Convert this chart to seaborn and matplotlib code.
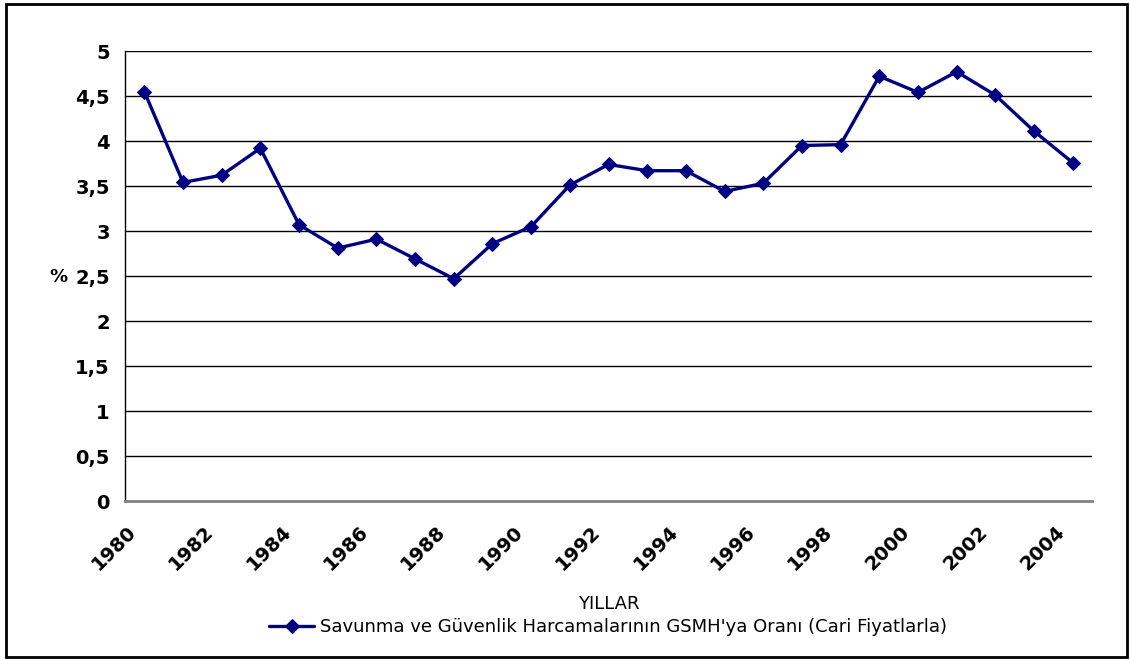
import numpy as np
import pandas as pd
import matplotlib
matplotlib.use("Agg")
import matplotlib.pyplot as plt
import matplotlib.transforms as mtrans
import seaborn as sns
from matplotlib.patches import Rectangle

# Data
years = list(range(1980, 2005))
ratio = [4.55, 3.54, 3.62, 3.92, 3.07, 2.81, 2.91, 2.69, 2.47, 2.86,
         3.05, 3.51, 3.74, 3.67, 3.67, 3.44, 3.53, 3.95, 3.96, 4.72,
         4.54, 4.77, 4.51, 4.11, 3.76]
series_name = "Savunma ve Güvenlik Harcamalarının GSMH'ya Oranı (Cari Fiyatlarla)"
y_ticks = [0, 0.5, 1, 1.5, 2, 2.5, 3, 3.5, 4, 4.5, 5]
y_tick_labels = ["0", "0,5", "1", "1,5", "2", "2,5", "3", "3,5", "4", "4,5", "5"]

df = pd.DataFrame({"Yil": years, "Oran": ratio})

sns.set_style("white")
plt.rcParams['font.family'] = ['DejaVu Sans']
plt.rcParams['text.color'] = 'black'
plt.rcParams['axes.labelcolor'] = 'black'
plt.rcParams['xtick.color'] = 'black'
plt.rcParams['ytick.color'] = 'black'

fig = plt.figure(figsize=(11.3, 6.6), dpi=100)
ax = fig.add_axes([0.1106, 0.2409, 0.8558, 0.6818])

sns.lineplot(data=df, x="Yil", y="Oran", ax=ax, color="#000080", linewidth=2.4,
             marker="D", markersize=7.5, markeredgecolor="#000080", label=series_name,
             legend=False)

ax.set_xlim(years[0] - 0.5, years[-1] + 0.5)
ax.set_ylim(0, 5)

# gridlines
for v in y_ticks[1:]:
    ax.axhline(v, color="black", linewidth=1, zorder=0)

ax.set_yticks(y_ticks)
ax.set_yticklabels(y_tick_labels, fontsize=14, fontweight="bold")

# category boundaries as tick marks, labels on every second year
ax.set_xticks([y - 0.5 for y in years] + [years[-1] + 0.5], minor=True)
ax.set_xticks(years[::2])
ax.set_xticklabels([str(y) for y in years[::2]], fontsize=14, fontweight="bold",
                   rotation=45, ha="right", va="center", rotation_mode="anchor")
ax.tick_params(axis="x", which="major", length=0, pad=20)
ax.tick_params(axis="x", which="minor", length=6, width=1, color="black", direction="out")
ax.tick_params(axis="y", length=6, width=1, color="black", direction="out", pad=5)

# nudge rotated year labels to the left (after tick_params, which resets transforms)
shift = mtrans.ScaledTranslation(-11 / 100, 0, fig.dpi_scale_trans)
for lbl in ax.get_xticklabels():
    lbl.set_transform(lbl.get_transform() + shift)

for s in ["top", "right"]:
    ax.spines[s].set_visible(False)
ax.spines["left"].set_color("black")
ax.spines["left"].set_linewidth(1)
ax.spines["bottom"].set_color("#808080")
ax.spines["bottom"].set_linewidth(2)

ax.set_xlabel("YILLAR", fontsize=13, labelpad=15)
ax.set_ylabel("%", fontsize=13, fontweight="bold", rotation=0)
ax.yaxis.set_label_coords(-0.069, 0.478)

handles, labels = ax.get_legend_handles_labels()
fig.legend(handles, labels, loc="center", bbox_to_anchor=(0.538, 0.05), frameon=False,
           fontsize=13, handlelength=2.5, handletextpad=0.3)

# outer chart frame
fig.patches.append(Rectangle((0.005, 0.004), 0.992, 0.99, transform=fig.transFigure,
                             fill=False, edgecolor="black", linewidth=2))

fig.savefig("out.png", dpi=100)
